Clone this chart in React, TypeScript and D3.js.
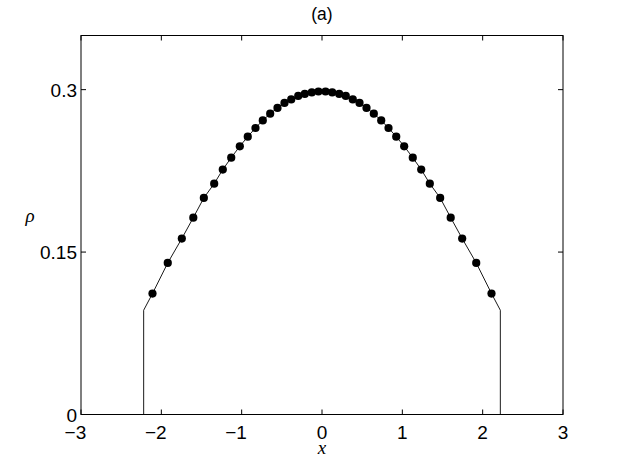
import * as d3 from "d3";
import { useEffect, useRef } from "react";

// right half of the symmetric profile (dots); left half is the mirror
const dotX = [0.044, 0.127, 0.214, 0.296, 0.383, 0.467, 0.554, 0.645, 0.737, 0.828, 0.924, 1.023, 1.13, 1.235, 1.342, 1.471, 1.602, 1.745, 1.92, 2.11];
const dotRho = [0.2983, 0.2974, 0.296, 0.2942, 0.291, 0.2877, 0.2831, 0.2778, 0.2716, 0.2646, 0.2566, 0.2477, 0.2372, 0.2262, 0.2132, 0.2, 0.1818, 0.1625, 0.14, 0.1117];
// edge of the support and the jump height
const edgeX = 2.22;
const edgeRho = 0.0963;

const xTicks = [-3, -2, -1, 0, 1, 2, 3];
const yTicks = [0, 0.15, 0.3];
const yTickLabels = ["0", "0.15", "0.3"];

const App = () => {
  const svgRef = useRef<SVGSVGElement>(null);

  useEffect(() => {
    const svg = d3.select(svgRef.current);
    svg.selectAll("*").remove();

    const left = 81, right = 563, top = 35.5, bottom = 414.5;
    const x = d3.scaleLinear().domain([-3, 3]).range([left, right]);
    const y = d3.scaleLinear().domain([0, 0.35]).range([bottom, top]);
    const font = "'Liberation Sans', Arial, Helvetica, sans-serif";
    const serif = "'Liberation Serif', 'Times New Roman', serif";

    const rightHalf = dotX.map((d, i) => [d, dotRho[i]] as [number, number]);
    const leftHalf = rightHalf.map(([a, b]) => [-a, b] as [number, number]).reverse();
    const dots = [...leftHalf, ...rightHalf];
    const lineData: [number, number][] = [
      [-edgeX, 0],
      [-edgeX, edgeRho],
      ...dots,
      [edgeX, edgeRho],
      [edgeX, 0],
    ];

    // box
    svg
      .append("rect")
      .attr("x", left)
      .attr("y", top)
      .attr("width", right - left)
      .attr("height", bottom - top)
      .attr("fill", "none")
      .attr("stroke", "#000")
      .attr("stroke-width", 1);

    // ticks inside, on all four sides
    const tk = 5;
    xTicks.forEach((t) => {
      svg.append("line").attr("x1", x(t)).attr("x2", x(t)).attr("y1", bottom).attr("y2", bottom - tk).attr("stroke", "#000");
      svg.append("line").attr("x1", x(t)).attr("x2", x(t)).attr("y1", top).attr("y2", top + tk).attr("stroke", "#000");
    });
    yTicks.forEach((t) => {
      svg.append("line").attr("x1", left).attr("x2", left + tk).attr("y1", y(t)).attr("y2", y(t)).attr("stroke", "#000");
      svg.append("line").attr("x1", right).attr("x2", right - tk).attr("y1", y(t)).attr("y2", y(t)).attr("stroke", "#000");
    });

    // x tick labels: digit centred on tick, minus sign hangs left
    const fs = 19;
    const digitW = 0.556 * fs;
    xTicks.forEach((t) => {
      svg
        .append("text")
        .attr("x", x(t) + digitW / 2)
        .attr("y", 439)
        .attr("text-anchor", "end")
        .attr("font-family", font)
        .attr("font-size", fs)
        .text(t < 0 ? "\u2212" + Math.abs(t) : String(t));
    });

    yTicks.forEach((t, i) => {
      svg
        .append("text")
        .attr("x", 77)
        .attr("y", y(t) + 7)
        .attr("text-anchor", "end")
        .attr("font-family", font)
        .attr("font-size", fs)
        .text(yTickLabels[i]);
    });

    // the curve
    const line = d3
      .line<[number, number]>()
      .x((d) => x(d[0]))
      .y((d) => y(d[1]));
    svg
      .append("path")
      .datum(lineData)
      .attr("d", line)
      .attr("fill", "none")
      .attr("stroke", "#000")
      .attr("stroke-width", 0.9);

    svg
      .selectAll(".dot")
      .data(dots)
      .enter()
      .append("circle")
      .attr("class", "dot")
      .attr("cx", (d) => x(d[0]))
      .attr("cy", (d) => y(d[1]))
      .attr("r", 4.1)
      .attr("fill", "#000");

    // labels
    svg
      .append("text")
      .attr("x", 322)
      .attr("y", 19.5)
      .attr("text-anchor", "middle")
      .attr("font-family", font)
      .attr("font-size", 17.5)
      .text("(a)");

    svg
      .append("text")
      .attr("x", 322)
      .attr("y", 454)
      .attr("text-anchor", "middle")
      .attr("font-family", serif)
      .attr("font-style", "italic")
      .attr("font-size", 19)
      .text("x");

    svg
      .append("text")
      .attr("x", 30)
      .attr("y", 222)
      .attr("text-anchor", "middle")
      .attr("font-family", serif)
      .attr("font-style", "italic")
      .attr("font-size", 19)
      .text("\u03c1");
  }, []);

  return (
    <svg
      ref={svgRef}
      width={622}
      height={468}
      style={{ position: "absolute", left: 0, top: 0, background: "#fff" }}
    ></svg>
  );
};

export default App;
